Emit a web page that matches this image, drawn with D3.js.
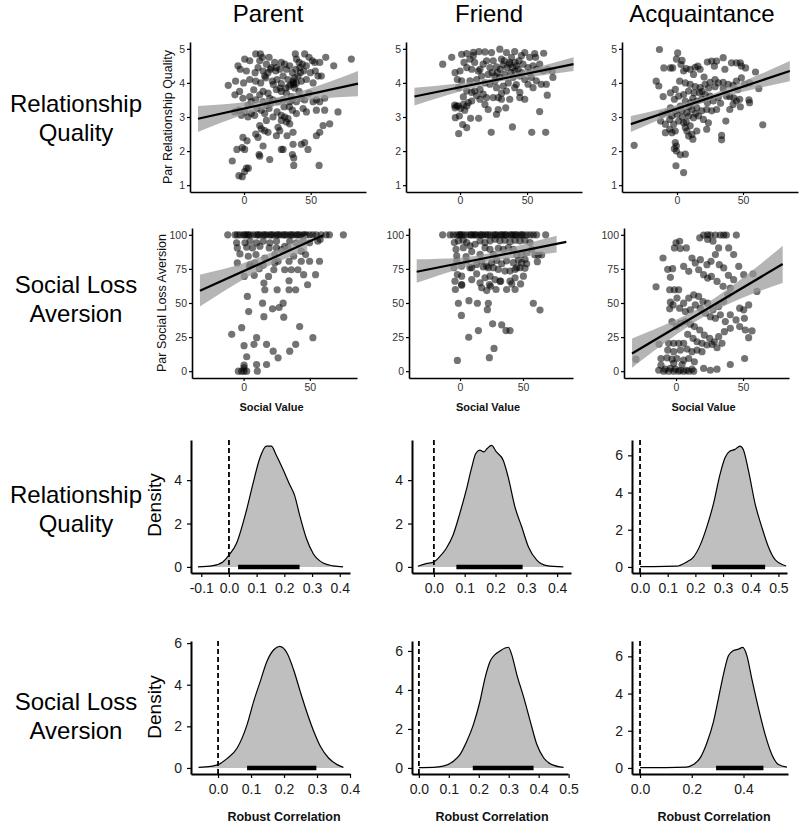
<!DOCTYPE html>
<html><head><meta charset="utf-8">
<script src="https://cdn.jsdelivr.net/npm/d3@7/dist/d3.min.js"></script>
<style>
body{margin:0;background:#fff}
svg{display:block}
text{font-family:"Liberation Sans",Arial,Helvetica,sans-serif}
</style>
</head><body>
<svg id="c" width="800" height="824"></svg>
<script>
// ---------------- labels ----------------
const columnTitles = ["Parent", "Friend", "Acquaintance"];
const rowLabels = [["Relationship", "Quality"], ["Social Loss", "Aversion"], ["Relationship", "Quality"], ["Social Loss", "Aversion"]];
const yTitlesScatter = ["Par Relationship Quality", "Par Social Loss Aversion"];
const scatterXTitle = "Social Value";
const densityXTitle = "Robust Correlation";
const densityYTitle = "Density";

// ---------------- tick values ----------------
const ticksRQ = [1, 2, 3, 4, 5];
const ticksSLA = [0, 25, 50, 75, 100];
const ticksSocialValue = [0, 50];
const densXTicks = [
  [-0.1, 0, 0.1, 0.2, 0.3, 0.4], [0, 0.1, 0.2, 0.3, 0.4], [0, 0.1, 0.2, 0.3, 0.4, 0.5],
  [0, 0.1, 0.2, 0.3, 0.4], [0, 0.1, 0.2, 0.3, 0.4, 0.5], [0, 0.2, 0.4]
];
const densYTicks = [[0, 2, 4], [0, 2, 4], [0, 2, 4, 6], [0, 2, 4, 6], [0, 2, 4, 6], [0, 2, 4, 6]];

// ---------------- axis limits ----------------
const scatterXDomains = [[-40.5, 91.5], [-40.3, 91], [-41.7, 91.7], [-39, 85.6], [-40.5, 89.7], [-38.8, 84.3]];
const scatterYDomainRQ = [0.8, 5.2];
const scatterYDomainSLA = [-5, 105];
const densXDomains = [[-0.137, 0.437], [-0.071, 0.445], [-0.029, 0.531], [-0.082, 0.4], [-0.023, 0.498], [-0.031, 0.572]];
const densYDomains = [[-0.28, 5.85], [-0.28, 5.85], [-0.325, 6.825], [-0.29, 6.1], [-0.31, 6.51], [-0.325, 6.825]];

// ---------------- scatter data: [social value, outcome] ----------------
const parentRQ = [
[0.5,4.7],[4.3,4.65],[8.8,4.85],[12.3,4.85],[13.8,4.75],[18.8,4.75],[23,4.6],[28,4.6],[30.5,4.55],[38.5,4.85],[39.3,4.7],[41.3,4.6],[45.5,4.85],[48.8,4.75],[51.3,4.65],[53,4.6],[56.8,4.6],[61.3,4.75],[67.3,4.5],[80.5,4.7],[11.8,4.65],[16.8,4.55],[20.5,4.45],[24.3,4.45],[34.3,4.5],[43.8,4.55],[46.8,4.5],
[-4.5,4.5],[-2.8,4.4],[1.8,4.35],[8.3,4.3],[10.5,4.45],[14.3,4.35],[15.5,4.2],[18,4.3],[19.8,4.4],[23.8,4.35],[26.8,4.4],[29.3,4.2],[31.8,4.4],[36.3,4.3],[40.5,4.2],[42.3,4.3],[44.8,4.35],[49.8,4.3],[53.5,4.35],[55.5,4.2],[58,4.2],[-11.8,3.93],[-6.3,4.05],[-0.3,4.0],[4.3,4.1],[8.8,4.05],[12.5,4.0],[16.3,4.15],[21.3,4.05],[24.8,4.1],[28,3.98],[33,4.1],[36.8,4.05],[37.3,3.95],[39.3,4.0],[43,4.05],[46.8,4.1],[51.8,4.0],
[-6.8,3.65],[-3.3,3.75],[-0.8,3.55],[4.3,3.6],[7.3,3.8],[11.8,3.65],[14.3,3.75],[18,3.7],[19.3,3.55],[24.3,3.8],[28,3.75],[31.3,3.85],[31.8,3.7],[33.8,3.9],[35.5,3.6],[38,3.85],[41.3,3.75],[43,3.55],[45.5,3.5],[48.8,3.7],[51.8,3.45],[54.3,3.5],[56.8,3.45],[60.5,3.55],[5.5,3.45],[8.8,3.5],[14.3,3.45],[21.8,3.5],[25.5,3.45],[29.3,3.5],[34.3,3.45],[39.3,3.45],
[-7,3.15],[-3.8,3.2],[0.5,3.15],[3,3.0],[5.5,3.1],[8,3.05],[9.8,3.25],[13,3.2],[15.5,3.1],[18.8,3.25],[21.8,3.0],[24.8,3.15],[28,3.05],[30.5,3.0],[31.8,2.85],[33,2.95],[36.3,3.2],[39.3,3.1],[44.3,3.25],[46.8,3.15],[54.3,3.2],[60.5,3.2],[64.3,2.8],[70.5,3.15],[59.3,2.75],[11.8,2.75],[16.8,2.9],[28,2.9],[34.3,2.8],
[-0.8,2.4],[2.3,2.3],[8.8,2.5],[10.5,2.4],[13,2.65],[15.5,2.6],[18,2.55],[24.3,2.45],[25.5,2.7],[26.8,2.6],[32.3,2.45],[36.8,2.55],[36.8,2.2],[43,2.2],[45.5,2.25],[48,2.05],[54.3,2.45],[56.8,2.55],[14.3,2.15],[28,2.05],[29.3,2.05],[-1.3,2.1],[0.5,2.05],[-5.3,2.05],[11.3,1.9],[11.8,1.85],[19.3,1.75],[36.3,1.9],[37.3,1.8],
[-8.8,1.71],[-3.8,1.28],[-1.3,1.25],[1.8,1.5],[3.3,1.5],[0.5,1.4],[37.3,1.58],[56.3,1.58],
[37,4.0],[38,4.15],[35,3.95],[27,3.85],[22,3.95],[30,3.3],[34,3.3],[36,3.5],[20,3.4],[17,3.35],[42,4.45],[39,4.4],[3,3.35],[-2,3.05]
];
const friendRQ = [
[-12.9,4.55],[-6.2,4.75],[-3.7,4.3],[-2,4.1],[-1.2,3.86],[1.2,4.84],[3,4.6],[5,4.86],[7.4,4.7],[9.9,4.8],[14.1,4.92],[10.9,4.6],[14.9,4.4],[0,4.35],[1.2,4.06],[-2.5,3.32],[-3.7,3.27],[-1.2,3.32],[2.5,3.37],[5,3.32],[6.2,3.42],[8.7,3.47],[-3.5,2.98],[-0.5,3.03],[2,2.78],[5,2.69],[7.9,2.96],[13.9,2.96],[-1,2.51],[23.3,2.55],[39.1,2.71],[53.5,2.55],[63.9,2.55],[59.4,3.16],[65.1,3.64],[69.3,4.16],
[18.6,4.91],[23.5,4.89],[29.7,4.99],[34.7,4.89],[40.8,4.92],[48.3,4.89],[55.7,4.86],[62.4,4.87],[56.4,4.75],[52,4.75],[45.8,4.8],[38.4,4.75],[30.9,4.7],[24.8,4.65],[19.8,4.65],[17.3,4.55],[13.6,4.35],[22.3,4.45],[27.2,4.47],[32.2,4.53],[37.1,4.55],[42.1,4.5],[43.3,4.4],[47,4.55],[50.7,4.45],[54.5,4.5],[59.4,4.55],[61.9,4.35],[65.6,4.4],[68.8,4.35],
[21,4.25],[26,4.2],[29.7,4.16],[33.4,4.25],[39.6,4.16],[44.6,4.2],[48.3,4.1],[53.2,4.16],[56.9,4.06],[60.6,3.96],[64.4,3.96],[18.6,4.0],[22.3,3.96],[27.2,3.86],[32.2,3.91],[34.7,3.76],[40.8,3.86],[44.6,3.72],[50.7,3.96],[54.5,3.86],[14.9,3.81],[10.9,3.76],[17.3,3.67],[19.8,3.57],[24.8,3.57],[28.5,3.57],[30.9,3.52],[37.1,3.52],[44.6,3.57],[48.3,3.52],[14.9,3.52],[18.6,3.37],[21,3.22],[28.5,3.22],[27.2,3.08],[34.1,3.27],[12.4,3.62],[8.7,3.72],[5,3.76],[2.5,3.59],[7.4,4.06],[12.4,4.1],[16.1,4.2],[5,4.45],[8.7,4.4],
[30,4.4],[35,4.45],[38,4.3],[41,4.6],[36,4.0],[33,4.65],[46,4.3],[26,4.05],[31,3.7],[42,3.95],
[39,4.45],[41,4.35],[37,4.6],[44,4.65],[28,4.3],[24,4.3],[-4,3.35],[0.5,3.25],[3.5,3.2],[10,4.9],[52,4.3],[57,4.4]
];
const acqRQ = [
[-32.5,2.17],[-13.3,4.98],[-10,4.44],[-15.8,4.05],[-13.8,3.91],[-10.5,3.6],[-5,4.44],[-3.3,4.44],[0.5,4.88],[-0.5,4.7],[3.8,4.66],[3,4.54],[5,4.35],[7,4.42],[10,4.4],[13.8,4.46],[17.5,4.4],[15.8,4.49],[12.5,4.25],[20.5,4.17],[23,4.61],[26.3,4.64],[30,4.64],[28.3,4.49],[35,4.74],[36.3,4.4],[41.3,4.59],[45,4.59],[48,4.59],[48.8,4.49],[52,4.44],[59.5,4.32],[62,3.83],[65,2.77],[55,3.42],[54.5,3.5],[47.5,3.52],[45,3.47],[48,3.3],[42.5,3.37],[40,3.22],[43,3.56],[37.5,3.61],[35,3.83],[33.8,2.46],[33.8,2.33],[37,2.88],[31.3,3.57],[28.8,3.89],[25,4.02],[28.8,4.1],[31.3,4.0],[35,4.02],[38.8,3.96],[42.5,3.93],[45,4.05],[48.8,4.15],[51.3,3.96],[55,4.0],[21.3,3.96],[17.5,3.86],[13.8,3.89],[10,3.96],[6.3,4.0],[2,4.05],[-1.3,3.81],[-5,3.71],[-2,3.52],[1.3,3.61],[5,3.66],[8.8,3.76],[13,3.71],[17,3.71],[21.3,3.66],[25,3.61],[27.5,3.47],[23,3.42],[18.8,3.52],[15,3.47],[10.5,3.42],[6.3,3.47],[2.5,3.32],[-1.3,3.18],[-5,3.27],[-7.5,3.13],[-11.3,3.08],[-12.5,2.88],[-8.8,2.79],[-5.5,2.93],[-3.8,3.03],[0,3.08],[3.8,3.18],[7.5,3.13],[11.3,3.22],[15,3.27],[18.8,3.18],[22.5,3.22],[26.3,3.18],[30,3.22],[8.8,3.03],[12.5,2.98],[16.3,3.03],[20,2.93],[23.8,2.83],[5,2.83],[1.3,2.88],[-2.5,2.79],[-5.5,2.64],[-8.8,2.54],[-3.8,2.54],[-1.3,2.59],[6.3,2.69],[7.5,2.59],[10,2.74],[11.3,2.49],[8.8,2.44],[12,2.35],[15,2.59],[22.5,2.64],[-1.3,2.25],[-2,2.07],[-0.5,2.0],[2.5,1.89],[6.3,1.91],[-0.8,1.57],[5,1.37],[-0.5,2.15],
[9,3.3],[12,3.55],[19,3.75],[24,3.85],[4,3.0],[7,2.85],[14,3.1],[40,3.6],[46,3.8],[33,3.4]
];
const parentSLA = [
[-12,100],[-6.5,100],[-4.8,100],[-2.8,100],[-0.3,100],[2.3,100],[4.8,100],[7.3,100],[9.8,100],[12.3,100],[14.8,100],[17.3,100],[19.8,100],[22.3,100],[24.8,100],[27.3,100],[29.8,100],[32.3,100],[34.8,100],[37.3,100],[39.8,100],[42.3,100],[44.8,100],[47.3,100],[49.8,100],[52.3,100],[54.8,100],[58.5,100],[62.3,100],[64.8,100],[75.3,100],
[1,100],[3.5,100],[11,100],[16,100],[21,100],[26,100],[31,100],[36,100],[41,100],[46,100],
[-5.3,94.1],[1,94.1],[4.8,95.3],[9.8,94.1],[14.8,95.3],[19.8,94.1],[24.8,95.3],[31,91.6],[34.8,95.3],[39.8,94.1],[44.8,95.3],[49.8,94.1],[56,95.3],[57.8,96.6],[-4.8,90.4],[2.3,90.9],[6.8,90.4],[12.3,91.6],[19.3,90.4],[24.8,90.4],[28.5,89.2],[33.5,90.4],[43.5,88],[-2.8,86],[3.5,84.3],[9.3,85.5],[16,83],[23.5,85.5],[37.8,84.3],[46.8,85.5],
[-4.8,79.4],[4.8,78.1],[8.5,79.4],[14.8,77.6],[23.5,79.4],[26,80.6],[31,74.4],[34.3,80.6],[36,74.4],[41,74.4],[43.5,80.6],[49.8,80.6],[57.3,80.6],[0.5,69.5],[8,70.3],[4.3,76.9],[11.8,75.2],[22.8,74.4],[45.3,70.8],[54.3,70.8],[48.3,63.4],[15.3,64.6],[18.8,69.5],[16,59.7],[25.3,59.7],[34.3,59.7],[39.3,59.7],[34.3,66.3],
[2.8,54.8],[3.8,43.7],[14.3,49.9],[21.8,45.7],[26.8,46.7],[29.8,49.9],[15.3,40],[30.3,39.6],[42.3,32.7],[-9,27],[-1.5,31.9],[52.3,24.6],[9.8,24.6],[0.3,18.7],[7.8,19.7],[17.3,19.7],[39.3,19.7],[22.3,14.7],[34.8,14.7],[26,9.8],[2.3,10.6],[0.3,4.4],[9.8,4.9],[17.3,4.9],[-4,0],[-1.5,0],[0.3,0],[2.3,0],[10.3,0],[0.3,2.5]
];
const friendSLA = [
[-13.8,100],[-7.9,100],[-5.3,100],[-2.6,100],[-0.5,100],[1.3,100],[5.3,100],[7.9,100],[10.6,100],[13.2,100],[15.9,100],[18.5,100],[20.6,100],[23.8,100],[26.5,100],[29.1,100],[31.7,100],[34.4,100],[37,100],[39.7,100],[42.3,100],[45,100],[47.6,100],[50.3,100],[52.9,100],[55.6,100],[58.2,100],[60.8,100],[68,100],
[0,100],[3,100],[9,100],[12,100],[17,100],[22,100],[28,100],[33,100],[36,100],[41,100],[44,100],[49,100],
[-4.5,94.3],[-1.3,95.6],[2.6,96],[5.3,94.3],[-3.2,89.4],[2.6,90.6],[7.9,91.9],[11.9,93.1],[15.9,95.6],[19.8,94.3],[23.8,95.6],[27.8,96.8],[31.7,95.6],[35.7,96],[39.7,95],[43.7,96],[47.6,95.6],[51.6,96],[55.6,94.3],[-2.6,84.5],[4.8,84],[9.3,87.7],[15.9,85.7],[19.8,90.6],[23.8,89.4],[26.5,85.7],[30.4,90.1],[34.4,89.4],[38.4,90.6],[42.3,89.4],[45,85.2],[49,85.7],[52.9,86.9],[56.9,89.4],[59.5,85.2],[62.2,85.2],[64.8,85.2],
[-2.6,80.8],[1.3,77.1],[5.3,80.8],[9.3,75.9],[13.2,78.3],[17.2,80.8],[21.2,77.1],[25.1,79.6],[29.1,81.3],[33.1,78.8],[37,80.8],[42.3,79.6],[46.3,81.3],[48.9,79.6],[51.6,82],[52.9,78.8],[-4.8,75.9],[-2.1,70.9],[1.3,69.7],[7.9,75.9],[13.2,71.4],[18.5,76.4],[22.5,75.9],[26.5,75.9],[30.4,74.6],[35.7,73.4],[39.7,73.4],[43.7,74.6],[47.6,75.9],[51.6,75.4],[61.4,80.3],
[-4,66],[1.3,63.5],[9.3,67.2],[15.9,64.8],[19.8,68.5],[23.8,69.7],[27.8,67.2],[31.7,66],[39.7,66],[43.7,68.5],[45,75.9],[50.3,69.7],[-3.7,59.9],[1.3,63.1],[17.2,61.1],[21.2,59.1],[24.3,62.3],[28.6,59.9],[32.3,66],[37,59.9],[41.1,64],[43.7,59.9],[48.1,64],[23.3,63.5],
[-1.3,49.8],[7.1,51.7],[13.8,49.8],[22.5,49.8],[21.7,45.1],[58.2,49.8],[63.5,44.8],[1.1,40.9],[25.9,34.7],[33.1,33.9],[36.5,29.8],[39.7,29.8],[14.6,29.8],[6.9,24.9],[27,16.7],[23.3,9.9],[-2.1,7.9]
];
const acqSLA = [
[-29.9,8.8],[-14.9,61.9],[-9.7,83],[-12.7,19.9],[-6.2,74.7],[-2.5,75.2],[-4.2,68.8],[-4.7,59.7],[-1.2,59.7],[2,59.7],[-4.2,50.6],[-2.2,48.6],[-4.7,45.7],[0.7,53.6],[0,94.1],[2.7,95.3],[-1.2,90.4],[3.2,89.9],[7.7,90.4],[5.7,76.9],[9.5,73.2],[11.9,83],[14.4,79.4],[16.9,74.4],[18.2,81.8],[17.7,97.8],[20.6,99.8],[23.6,96.6],[25.6,99.8],[29.4,99.8],[33.1,99.8],[35.6,99.8],[37.6,99.8],[45,99.8],[23.6,100],[27.6,95.3],[31.8,90.4],[39.3,90.4],[43,85.5],[46.8,76.9],[50.5,70.8],[57.5,71.3],[60.4,58.5],[54.2,48.6],[47.5,46.2],[50.5,45],[51,38.8],[47.5,32.7],[51.7,30.2],[56.7,29.5],[51.2,9.3],[40.5,4.9],[54.2,24.6],
[43,67.1],[39.1,70.3],[35.6,75.7],[32.3,78.1],[29.4,85.5],[26.1,80.6],[23.1,78.1],[20.6,70.8],[23.6,68.3],[26.4,69.5],[30.6,65.8],[35.1,62.2],[40.5,60.9],[38.6,56],[35.6,51.1],[31.8,47.4],[27.6,45],[23.6,49.9],[20.1,51.1],[16.9,54.8],[13.2,56],[9.5,53.6],[5.7,49.9],[2.7,46.2],[7,43.7],[10.7,45],[14.4,48.6],[18.2,46.2],[21.9,42.5],[25.6,40],[29.4,38.8],[33.1,41.3],[36.8,36.4],[40.5,41.3],[44.8,37.6],[40.5,31.4],[36.1,29],[31.8,25.3],[28.6,21.6],[25.1,24.1],[21.1,26.5],[17.7,30.2],[13.7,32.7],[10.7,34.4],[7,36.4],[3.2,35.1],[0.2,32.7],[-3,36.4],
[8.7,27],[12.7,24.1],[15.7,21.6],[19.4,20.4],[23.1,19.2],[26.9,19.7],[30.6,17.2],[34.3,20.4],[5.7,20.4],[2,20.4],[-1.7,20.4],[-5.5,20.4],[-6.2,15.5],[-1.7,14.3],[3.2,15.5],[8.2,16.2],[11.9,14.3],[15.7,15.5],[19.4,14.3],[-11.2,9.3],[-6.7,9.8],[-3,8.8],[0.7,9.3],[5.7,8.1],[9.5,9.3],[13.7,6.9],[20.6,2],[25.6,0.7],[30.6,1.5],[-11.2,4.4],[-8,1.5],[-4.2,2],[-0.5,1.5],[3.2,0.7],[7.7,0.7],[11.9,1.5],[-9.2,0],[-5.5,0],[-1.7,0],[2,0],[5.7,0],[9.5,0],[13.2,0],[-12.9,0.7],[-1.7,5.7],[4.5,4.9]
];

// regression lines [x, fit] and confidence bands [x, lower, upper]
const parentRQLine = [[-34.5, 2.95], [85.5, 3.98]];
const parentRQBand = [[-34.5, 2.56, 3.32], [0, 3.07, 3.43], [25, 3.34, 3.58], [55, 3.53, 3.91], [85.5, 3.61, 4.35]];
const friendRQLine = [[-34, 3.6], [84.7, 4.55]];
const friendRQBand = [[-34, 3.34, 3.86], [0, 3.75, 3.99], [30, 4.04, 4.18], [55, 4.19, 4.43], [84.7, 4.35, 4.75]];
const acqRQLine = [[-35, 2.79], [85.5, 4.35]];
const acqRQBand = [[-35, 2.56, 3.03], [0, 3.13, 3.35], [20, 3.42, 3.58], [50, 3.74, 4.04], [85.5, 4.05, 4.64]];
const parentSLALine = [[-33, 59], [60, 99.6]];
const parentSLABand = [[-33, 47.4, 70.8], [0, 67.4, 79.4], [20, 77.6, 86.6], [48, 88.4, 99.8]];
const friendSLALine = [[-34.4, 72.9], [84.4, 94.8]];
const friendSLABand = [[-34.4, 64.8, 82], [0, 75.2, 83.2], [25, 80.8, 86.8], [50, 83.9, 92.9], [76.7, 87, 99.3]];
const acqSLALine = [[-32.8, 13], [79.6, 78.6]];
const acqSLABand = [[-32.8, 2.5, 24], [0, 26.7, 37.7], [15, 36.7, 45.1], [45, 51.9, 64.9], [79.6, 64.6, 92]];

// ---------------- posterior densities of the robust correlation: [r, density] ----------------
const parentRQDens = [[-0.112,0],[-0.058,0.06],[-0.022,0.23],[0,0.54],[0.027,1.08],[0.063,2.6],[0.087,3.85],[0.111,5.0],[0.135,5.57],[0.153,5.57],[0.171,5.15],[0.195,4.5],[0.219,3.8],[0.237,3.3],[0.255,2.4],[0.28,1.3],[0.304,0.62],[0.34,0.18],[0.376,0.05],[0.412,0]];
const friendRQDens = [[-0.052,0.03],[-0.025,0.15],[0,0.23],[0.018,0.46],[0.04,0.85],[0.062,1.46],[0.084,2.46],[0.105,3.54],[0.122,4.54],[0.136,5.23],[0.149,5.38],[0.162,5.3],[0.173,5.46],[0.187,5.6],[0.203,5.3],[0.225,4.92],[0.241,4.15],[0.263,2.77],[0.285,1.85],[0.307,0.92],[0.334,0.31],[0.366,0.06],[0.42,0]];
const acqRQDens = [[0,0.02],[0.05,0.02],[0.13,0.04],[0.169,0.27],[0.193,0.53],[0.217,1.16],[0.241,2.14],[0.265,3.38],[0.289,4.98],[0.307,5.87],[0.325,6.23],[0.343,6.32],[0.361,6.5],[0.373,6.32],[0.392,5.16],[0.416,3.38],[0.44,2.14],[0.464,1.07],[0.488,0.39],[0.528,0.05]];
const parentSLADens = [[-0.059,0.03],[-0.023,0.08],[0,0.16],[0.027,0.45],[0.058,0.96],[0.088,2.08],[0.108,3.2],[0.128,4.16],[0.148,5.12],[0.169,5.68],[0.187,5.84],[0.209,5.52],[0.229,4.72],[0.249,3.68],[0.27,2.64],[0.29,1.76],[0.31,1.04],[0.335,0.48],[0.361,0.16],[0.38,0.03]];
const friendSLADens = [[0,0.02],[0.048,0.03],[0.081,0.09],[0.115,0.34],[0.137,0.68],[0.16,1.37],[0.182,2.22],[0.204,3.42],[0.221,4.62],[0.238,5.47],[0.254,5.81],[0.271,6.0],[0.288,6.15],[0.299,6.19],[0.31,5.81],[0.327,4.79],[0.349,3.68],[0.372,2.39],[0.394,1.2],[0.417,0.51],[0.444,0.17],[0.483,0.03]];
const acqSLADens = [[0,0.02],[0.1,0.02],[0.18,0.04],[0.206,0.18],[0.232,0.53],[0.258,1.33],[0.284,2.49],[0.303,3.73],[0.323,5.06],[0.342,6.04],[0.361,6.31],[0.381,6.39],[0.397,6.48],[0.413,6.04],[0.432,4.8],[0.458,3.2],[0.484,1.78],[0.51,0.71],[0.535,0.18],[0.568,0.04]];
// highest density intervals [low, high]
const hdis = [[0.033, 0.255], [0.073, 0.288], [0.259, 0.452], [0.088, 0.298], [0.18, 0.383], [0.294, 0.477]];

// ---------------- layout ----------------
const svg = d3.select("#c");
const FONT = '"Liberation Sans",Arial,Helvetica,sans-serif';

const scatterBoxes = [
  {l:190, r:366, t:42, b:192}, {l:406, r:582, t:42, b:192}, {l:622, r:798, t:42, b:192},
  {l:192, r:357, t:228, b:378}, {l:409, r:573, t:228, b:378}, {l:624, r:789, t:228, b:378}
];
const densBoxes = [
  {l:191, r:350, t:440, b:573}, {l:412, r:571, t:440, b:573}, {l:632, r:787, t:440, b:573},
  {l:191, r:350, t:641, b:774}, {l:412, r:568, t:641, b:774}, {l:632, r:788, t:641, b:774}
];

const scatterSets = [
  {pts: parentRQ, line: parentRQLine, band: parentRQBand},
  {pts: friendRQ, line: friendRQLine, band: friendRQBand},
  {pts: acqRQ, line: acqRQLine, band: acqRQBand},
  {pts: parentSLA, line: parentSLALine, band: parentSLABand},
  {pts: friendSLA, line: friendSLALine, band: friendSLABand},
  {pts: acqSLA, line: acqSLALine, band: acqSLABand}
];
const densSets = [parentRQDens, friendRQDens, acqRQDens, parentSLADens, friendSLADens, acqSLADens];

function styleAxis(g, size, color, lw) {
  g.attr("font-family", FONT).attr("font-size", size);
  g.select(".domain").attr("stroke", "#000").attr("stroke-width", lw);
  g.selectAll(".tick line").attr("stroke", "#000").attr("stroke-width", 1.2);
  g.selectAll(".tick text").attr("fill", color);
}

// scatter panels
scatterSets.forEach((s, i) => {
  const box = scatterBoxes[i];
  const isRQ = i < 3;
  const x = d3.scaleLinear().domain(scatterXDomains[i]).range([box.l, box.r]);
  const y = d3.scaleLinear().domain(isRQ ? scatterYDomainRQ : scatterYDomainSLA).range([box.b, box.t]);
  const g = svg.append("g");
  g.selectAll("circle").data(s.pts).join("circle")
    .attr("cx", d => x(d[0])).attr("cy", d => y(d[1])).attr("r", 3.6)
    .attr("fill", "#000").attr("fill-opacity", 0.55);
  g.append("path").datum(s.band)
    .attr("d", d3.area().x(d => x(d[0])).y0(d => y(d[1])).y1(d => y(d[2])).curve(d3.curveMonotoneX))
    .attr("fill", "#999").attr("fill-opacity", 0.72);
  g.append("path").datum(s.line)
    .attr("d", d3.line().x(d => x(d[0])).y(d => y(d[1])))
    .attr("fill", "none").attr("stroke", "#000").attr("stroke-width", 2.2);

  const ax = svg.append("g").attr("transform", `translate(0,${box.b})`)
    .call(d3.axisBottom(x).tickValues(ticksSocialValue).tickFormat(d3.format("d")).tickSize(3).tickSizeOuter(0).tickPadding(isRQ ? 2 : 3));
  styleAxis(ax, 10.5, "#333", 1.6);
  const ay = svg.append("g").attr("transform", `translate(${box.l},0)`)
    .call(d3.axisLeft(y).tickValues(isRQ ? ticksRQ : ticksSLA).tickFormat(d3.format("d")).tickSize(3).tickSizeOuter(0).tickPadding(2));
  styleAxis(ay, 10.5, "#333", 1.6);

  if (!isRQ) {
    svg.append("text").attr("x", (box.l + box.r) / 2 - 3).attr("y", 411)
      .attr("text-anchor", "middle").attr("font-size", 11).attr("font-weight", "bold").attr("fill", "#111")
      .text(scatterXTitle);
  }
});

// scatter y titles (first column)
svg.append("text").attr("transform", "translate(172,117) rotate(-90)").attr("text-anchor", "middle")
  .attr("font-size", 12.5).attr("fill", "#111").text(yTitlesScatter[0]);
svg.append("text").attr("transform", "translate(166,303) rotate(-90)").attr("text-anchor", "middle")
  .attr("font-size", 12.5).attr("fill", "#111").text(yTitlesScatter[1]);

// density panels
densSets.forEach((dens, i) => {
  const box = densBoxes[i];
  const x = d3.scaleLinear().domain(densXDomains[i]).range([box.l, box.r]);
  const y = d3.scaleLinear().domain(densYDomains[i]).range([box.b, box.t]);
  const g = svg.append("g");
  g.append("path").datum(dens)
    .attr("d", d3.area().x(d => x(d[0])).y0(y(0)).y1(d => y(d[1])).curve(d3.curveMonotoneX))
    .attr("fill", "#bfbfbf");
  g.append("path").datum(dens)
    .attr("d", d3.line().x(d => x(d[0])).y(d => y(d[1])).curve(d3.curveMonotoneX))
    .attr("fill", "none").attr("stroke", "#000").attr("stroke-width", 1.2);
  g.append("line").attr("x1", x(hdis[i][0])).attr("x2", x(hdis[i][1]))
    .attr("y1", y(0)).attr("y2", y(0)).attr("stroke", "#000").attr("stroke-width", 4.5);
  g.append("line").attr("x1", x(0)).attr("x2", x(0)).attr("y1", box.t).attr("y2", box.b)
    .attr("stroke", "#000").attr("stroke-width", 1.8).attr("stroke-dasharray", "5,3");

  const ax = svg.append("g").attr("transform", `translate(0,${box.b})`)
    .call(d3.axisBottom(x).tickValues(densXTicks[i]).tickFormat(d3.format(".1f")).tickSize(4).tickSizeOuter(0).tickPadding(6));
  styleAxis(ax, 14, "#1a1a1a", 2);
  ax.selectAll(".tick text").text(d => d3.format(".1f")(d).replace("\u2212", "-"));
  const ay = svg.append("g").attr("transform", `translate(${box.l},0)`)
    .call(d3.axisLeft(y).tickValues(densYTicks[i]).tickFormat(d3.format("d")).tickSize(4).tickSizeOuter(0).tickPadding(5));
  styleAxis(ay, 14, "#1a1a1a", 2);

  if (i >= 3) {
    const cx = [284, 492, 714][i - 3];
    svg.append("text").attr("x", cx).attr("y", 821).attr("text-anchor", "middle")
      .attr("font-size", 12.5).attr("font-weight", "bold").attr("fill", "#111").text(densityXTitle);
  }
});

// density y titles
[505, 707].forEach(cy => {
  svg.append("text").attr("transform", `translate(161,${cy}) rotate(-90)`).attr("text-anchor", "middle")
    .attr("font-size", 19).attr("fill", "#000").text(densityYTitle);
});

// column titles
[268, 489, 702].forEach((cx, i) => {
  svg.append("text").attr("x", cx).attr("y", 22).attr("text-anchor", "middle")
    .attr("font-size", 24).attr("fill", "#000").text(columnTitles[i]);
});

// row labels
const rowBaselines = [[112, 141], [293, 322], [503, 532], [710, 739]];
rowLabels.forEach((lines, r) => {
  lines.forEach((t, k) => {
    svg.append("text").attr("x", 76).attr("y", rowBaselines[r][k]).attr("text-anchor", "middle")
      .attr("font-size", 24).attr("fill", "#000").text(t);
  });
});
</script>
</body></html>
